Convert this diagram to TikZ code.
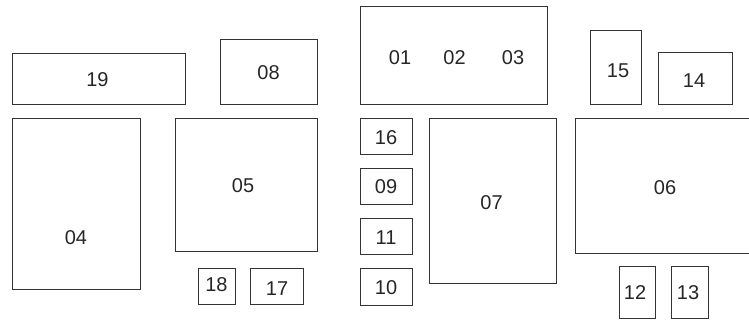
\documentclass[tikz,border=0pt]{standalone}
\usepackage{fontspec}
\setmainfont{Liberation Sans}

\begin{document}
\begin{tikzpicture}[x=1pt,y=-1pt,semithick]
\tikzset{booth/.style={draw=black!80,line width=0.9pt}}
\tikzset{tag/.style={font=\fontsize{20pt}{24}\selectfont,text=black!85,inner sep=0pt}}

        \useasboundingbox (0,0) rectangle (749,320);

        % left part
        \draw[booth] (12.5,53.5) rectangle (185.5,104);
        \node[tag] (l19) at (97.5,80) {19};
        \draw[booth] (220,39) rectangle (317,104);
        \node[tag] (l08) at (268.5,73) {08};
        \draw[booth] (12.5,118) rectangle (140,289);
        \node[tag] (l04) at (76,237.5) {04};
        \draw[booth] (175,118) rectangle (317,251);
        \node[tag] (l05) at (243,186) {05};
        \draw[booth] (198,268) rectangle (235,304);
        \node[tag] (l18) at (216.5,284.5) {18};
        \draw[booth] (250,268) rectangle (303,304);
        \node[tag] (l17) at (277,288.5) {17};

        % middle part
        \draw[booth] (360,6) rectangle (547.5,104);
        \node[tag] (l01) at (400,58) {01};
        \node[tag] (l02) at (454.5,58) {02};
        \node[tag] (l03) at (513,58) {03};
        \draw[booth] (360,118) rectangle (412.5,154);
        \node[tag] (l16) at (386,138) {16};
        \draw[booth] (360,168) rectangle (412.5,204);
        \node[tag] (l09) at (386,187) {09};
        \draw[booth] (360,218) rectangle (412.5,254);
        \node[tag] (l11) at (386,237.5) {11};
        \draw[booth] (360,268) rectangle (412.5,305);
        \node[tag] (l10) at (386,287.5) {10};
        \draw[booth] (429,118) rectangle (556.5,283);
        \node[tag] (l07) at (491.5,203) {07};

        % right part
        \draw[booth] (590,30.5) rectangle (641.5,104);
        \node[tag] (l15) at (618,71) {15};
        \draw[booth] (658,52) rectangle (732.5,104);
        \node[tag] (l14) at (694,81) {14};
        \draw[booth] (755,118) -- (575.5,118) -- (575.5,253) -- (755,253);
        \node[tag] (l06) at (665,187.5) {06};
        \draw[booth] (619,266.5) rectangle (655.5,318);
        \node[tag] (l12) at (635,292.5) {12};
        \draw[booth] (671.5,266.5) rectangle (708.5,318);
        \node[tag] (l13) at (688,292.5) {13};

\end{tikzpicture}
\end{document}
